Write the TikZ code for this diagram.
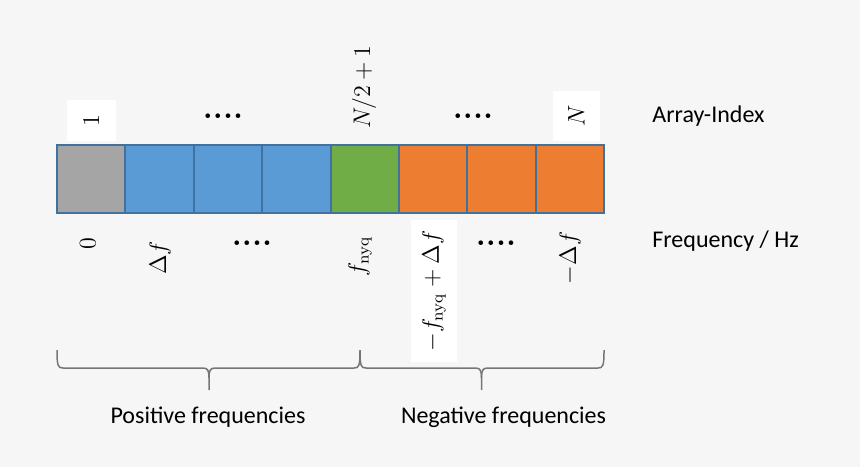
\documentclass[tikz,border=0pt]{standalone}
\usepackage[no-math]{fontspec}
\newfontfamily\calibri{Carlito}
\usetikzlibrary{positioning}

\definecolor{bgcol}{HTML}{F6F6F6}
\definecolor{framecol}{HTML}{41719C}
\definecolor{zerocol}{HTML}{A5A5A5}
\definecolor{poscol}{HTML}{5B9BD5}
\definecolor{nyqcol}{HTML}{70AD47}
\definecolor{negcol}{HTML}{ED7D31}
\definecolor{bracecol}{HTML}{767676}

\begin{document}
\begin{tikzpicture}[x=0.5pt, y=-0.5pt,
  cell/.style={draw=framecol, line width=1pt, minimum width=34.1875pt, minimum height=34pt, inner sep=0pt},
  lbl/.style={rotate=90, inner sep=0pt, font=\fontsize{12}{14}\selectfont},
  whitebox/.style={fill=white},
  dots/.style={anchor=base, inner sep=0pt, font=\bfseries\fontsize{16}{18}\selectfont},
  side/.style={anchor=base west, inner sep=0pt, font=\calibri\fontsize{12}{14}\selectfont},
  brc/.style={draw=bracecol, line width=0.75pt}]

% Background
\fill[bgcol] (0,0) rectangle (860,467);

% Array cells
\foreach \col [count=\i] in {zerocol,poscol,poscol,poscol,nyqcol,negcol,negcol,negcol}
  \node[cell, fill=\col] (c\i) at ({57+(\i-0.5)*68.375},179) {};

% Array index labels
\node[lbl, whitebox, minimum width=20.5pt, minimum height=24.5pt] (idx1) at (91.5,120.5) {$1$};
\node[dots] (dotsA) at (223,118) {....};
\node[lbl] (idxmid) at (364,87) {$N/2+1$};
\node[dots] (dotsB) at (473,118) {....};
\node[lbl, whitebox, minimum width=25pt, minimum height=23.5pt] (idxN) at (576.5,116) {$N$};

% Frequency labels
\node[lbl] (f0) at (88,243.5) {$0$};
\node[lbl] (f1) at (160,258) {$\Delta f$};
\node[dots] (dotsC) at (252,245) {....};
\node[lbl] (fnyq) at (360,256.5) {$f_{\mathrm{nyq}}$};
\node[lbl, whitebox, minimum width=71pt, minimum height=23pt] (fneg) at (434,291) {$-f_{\mathrm{nyq}}+\Delta f$};
\node[dots] (dotsD) at (496,245) {....};
\node[lbl] (fN) at (570,258) {$-\Delta f$};

% Row captions
\node[side] (idxcap) at (652,122.5) {Array-Index};
\node[side] (freqcap) at (652,247) {Frequency / Hz};

% Braces
\foreach \xa/\xm/\xb in {57/209/360, 360/481.5/604} {
  \draw[brc] (\xa,350) .. controls (\xa,366) and (\xa+1,368) .. (\xa+6,368) -- (\xm-6,368)
    .. controls (\xm-1,368) and (\xm,371) .. (\xm,378) -- (\xm,390);
  \draw[brc] (\xb,350) .. controls (\xb,366) and (\xb-1,368) .. (\xb-6,368) -- (\xm+6,368)
    .. controls (\xm+1,368) and (\xm,371) .. (\xm,378);
}

% Brace captions
\node[side, anchor=base] (poscap) at (208,423) {Positive frequencies};
\node[side, anchor=base] (negcap) at (503.5,423) {Negative frequencies};

\end{tikzpicture}
\end{document}
